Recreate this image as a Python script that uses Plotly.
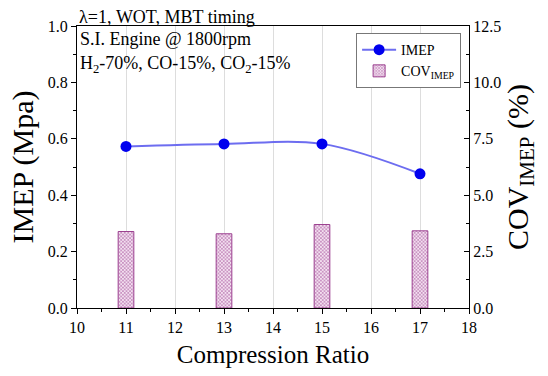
import plotly.graph_objects as go

# Engine test data
compression_ratio = [11, 13, 15, 17]
imep_mpa = [0.573, 0.582, 0.582, 0.476]
cov_imep_pct = [3.39, 3.29, 3.70, 3.42]

FONT = "Liberation Serif, Times New Roman, serif"
PURPLE = "#9b3f8f"

fig = go.Figure()

fig.add_trace(go.Bar(
    x=compression_ratio, y=cov_imep_pct, yaxis="y2", width=0.32,
    name="COV<sub>IMEP</sub>",
    marker=dict(color="white", line=dict(color=PURPLE, width=1),
                pattern=dict(shape="x", fgcolor=PURPLE, bgcolor="#f3e0f0",
                             size=2.5, solidity=0.55)),
))

fig.add_trace(go.Scatter(
    x=compression_ratio, y=imep_mpa, mode="lines+markers", name="IMEP",
    line=dict(color="#6d6df0", width=2, shape="spline", smoothing=1.0),
    marker=dict(color="#0000ee", size=11),
))

fig.update_layout(
    width=548, height=376,
    margin=dict(l=77, r=79, t=26, b=66),
    paper_bgcolor="white", plot_bgcolor="white",
    font=dict(family=FONT, color="black", size=16),
    showlegend=True,
    legend=dict(x=0.712, y=0.975, xanchor="left", yanchor="top",
                bordercolor="#777", borderwidth=1, bgcolor="white",
                font=dict(family=FONT, size=14), tracegroupgap=0,
                traceorder="reversed", itemwidth=34),
    xaxis=dict(range=[10, 18], dtick=1, showgrid=True, gridcolor="#dddddd",
               showline=True, linecolor="black", linewidth=1, mirror=True,
               ticks="outside", ticklen=5, tickcolor="black",
               minor=dict(dtick=0.5, ticks="outside", ticklen=3, tickcolor="black"),
               zeroline=False,
               title=dict(text="Compression Ratio",
                          font=dict(family=FONT, size=25), standoff=10),
               tickfont=dict(family=FONT, size=16)),
    yaxis=dict(range=[0, 1.0], dtick=0.2, tickformat=".1f", showgrid=False,
               showline=True, linecolor="black", linewidth=1,
               ticks="outside", ticklen=5, tickcolor="black",
               minor=dict(dtick=0.1, ticks="outside", ticklen=3, tickcolor="black"),
               zeroline=False,
               title=dict(text="IMEP (Mpa)", font=dict(family=FONT, size=30),
                          standoff=5),
               tickfont=dict(family=FONT, size=16)),
    yaxis2=dict(range=[0, 12.5], dtick=2.5, tickformat=".1f", overlaying="y",
                side="right", showgrid=False,
                showline=True, linecolor="black", linewidth=1,
                ticks="inside", ticklen=5, tickcolor="black",
                minor=dict(dtick=1.25, ticks="inside", ticklen=3, tickcolor="black"),
                zeroline=False,
                title=dict(text="COV<sub>IMEP</sub> (%)",
                           font=dict(family=FONT, size=30), standoff=5),
                tickfont=dict(family=FONT, size=16)),
    annotations=[
        dict(text="λ=1, WOT, MBT timing", xref="paper", yref="paper",
             x=0.0, y=1.0, xanchor="left", yanchor="bottom", showarrow=False,
             font=dict(family=FONT, size=18), yshift=-3),
        dict(text="S.I. Engine @ 1800rpm", xref="paper", yref="paper",
             x=0.003, y=0.995, xanchor="left", yanchor="top", showarrow=False,
             font=dict(family=FONT, size=18)),
        dict(text="H<sub>2</sub>-70%, CO-15%, CO<sub>2</sub>-15%", xref="paper",
             yref="paper", x=0.003, y=0.91, xanchor="left", yanchor="top",
             showarrow=False, font=dict(family=FONT, size=18)),
    ],
)

fig.write_html("out.html")
